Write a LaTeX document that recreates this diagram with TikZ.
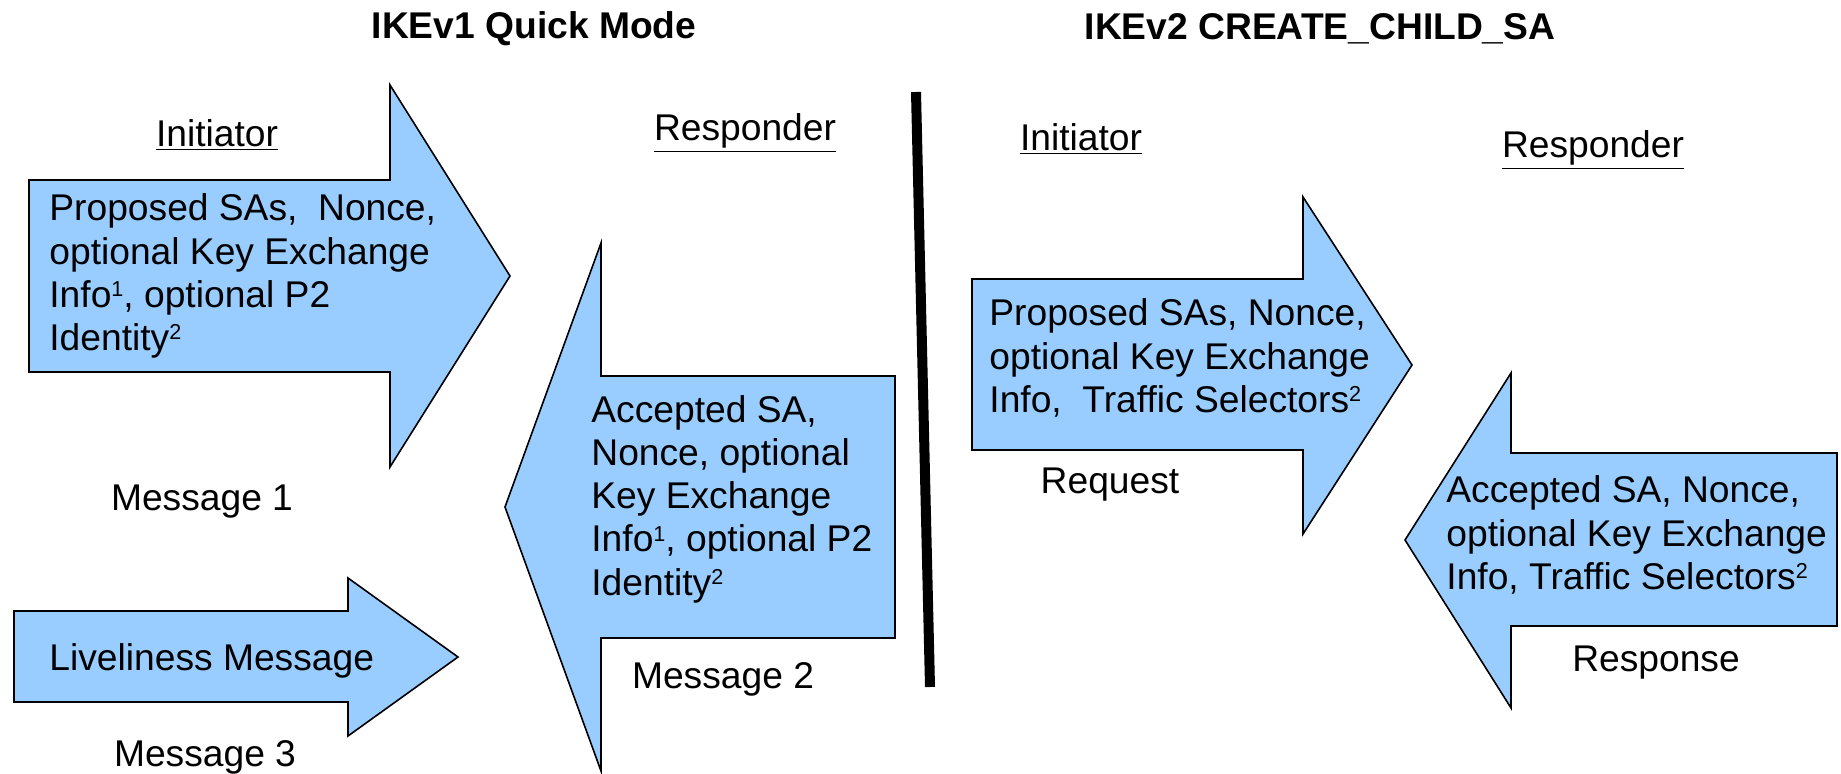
\documentclass[tikz,border=0pt]{standalone}
\usepackage{fontspec}
\setmainfont{Liberation Sans}
\definecolor{arrowblue}{HTML}{99CCFF}
\newcommand{\msgfont}{\fontsize{18.6pt}{21.6pt}\selectfont}
\newcommand{\supnum}[1]{\raisebox{5.4pt}{\fontsize{10.8pt}{10.8pt}\selectfont #1}}
\begin{document}
\begin{tikzpicture}[x=0.5pt,y=-0.5pt,
  arrowshape/.style={fill=arrowblue, draw=black, line width=0.8pt, line join=miter},
  txt/.style={inner sep=0pt, align=left, anchor=west, font=\msgfont},
  lbl/.style={inner sep=0pt, font=\msgfont},
  ttl/.style={inner sep=0pt, font=\msgfont\bfseries},
  divider/.style={line width=5pt}]
\useasboundingbox (0,0) rectangle (1841,774);

% titles
\node[ttl] (t1) at (534,29) {IKEv1 Quick Mode};
\node[ttl] (t2) at (1320,29) {IKEv2 CREATE\_CHILD\_SA};

% role labels
\node[lbl] (i1) at (217,135) {\underline{Initiator}};
\node[lbl] (r1) at (745,133) {\underline{Responder}};
\node[lbl] (i2) at (1081,139) {\underline{Initiator}};
\node[lbl] (r2) at (1593,150) {\underline{Responder}};

% arrow 1
\draw[arrowshape] (29,180) -- (390,180) -- (390,85) -- (510,276) -- (390,467) -- (390,372) -- (29,372) -- cycle;
\node[txt] (m1) at (49,276) {Proposed SAs,\ \ Nonce,\\optional Key Exchange\\Info\supnum{1}, optional P2\\Identity\supnum{2}};
\node[lbl] (m1l) at (202,502) {Message 1};

% arrow 2
\draw[arrowshape] (895,376) -- (601,376) -- (601,243) -- (505,507) -- (601,771) -- (601,638) -- (895,638) -- cycle;
\node[txt] (m2) at (591,499) {Accepted SA,\\Nonce, optional\\Key Exchange\\Info\supnum{1}, optional P2\\Identity\supnum{2}};
\node[lbl] (m2l) at (723,679) {Message 2};

% arrow 3
\draw[arrowshape] (14,611) -- (348,611) -- (348,578) -- (458,657) -- (348,736) -- (348,702) -- (14,702) -- cycle;
\node[txt] (m3) at (49,661) {Liveliness Message};
\node[lbl] (m3l) at (205,757) {Message 3};

% divider
\coordinate (dtop) at (916,92);
\coordinate (dbot) at (930,687);
\draw[divider] (dtop) -- (dbot);

% arrow 4
\draw[arrowshape] (972,279) -- (1303,279) -- (1303,197) -- (1412,365) -- (1303,534) -- (1303,450) -- (972,450) -- cycle;
\node[txt] (q) at (989,358) {Proposed SAs, Nonce,\\optional Key Exchange\\Info,\ \ Traffic Selectors\supnum{2}};
\node[lbl] (ql) at (1110,485) {Request};

% arrow 5
\draw[arrowshape] (1837,453) -- (1511,453) -- (1511,373) -- (1405,540) -- (1511,708) -- (1511,626) -- (1837,626) -- cycle;
\node[txt] (s) at (1446,535) {Accepted SA, Nonce,\\optional Key Exchange\\Info, Traffic Selectors\supnum{2}};
\node[lbl] (sl) at (1656,663) {Response};
\end{tikzpicture}
\end{document}
